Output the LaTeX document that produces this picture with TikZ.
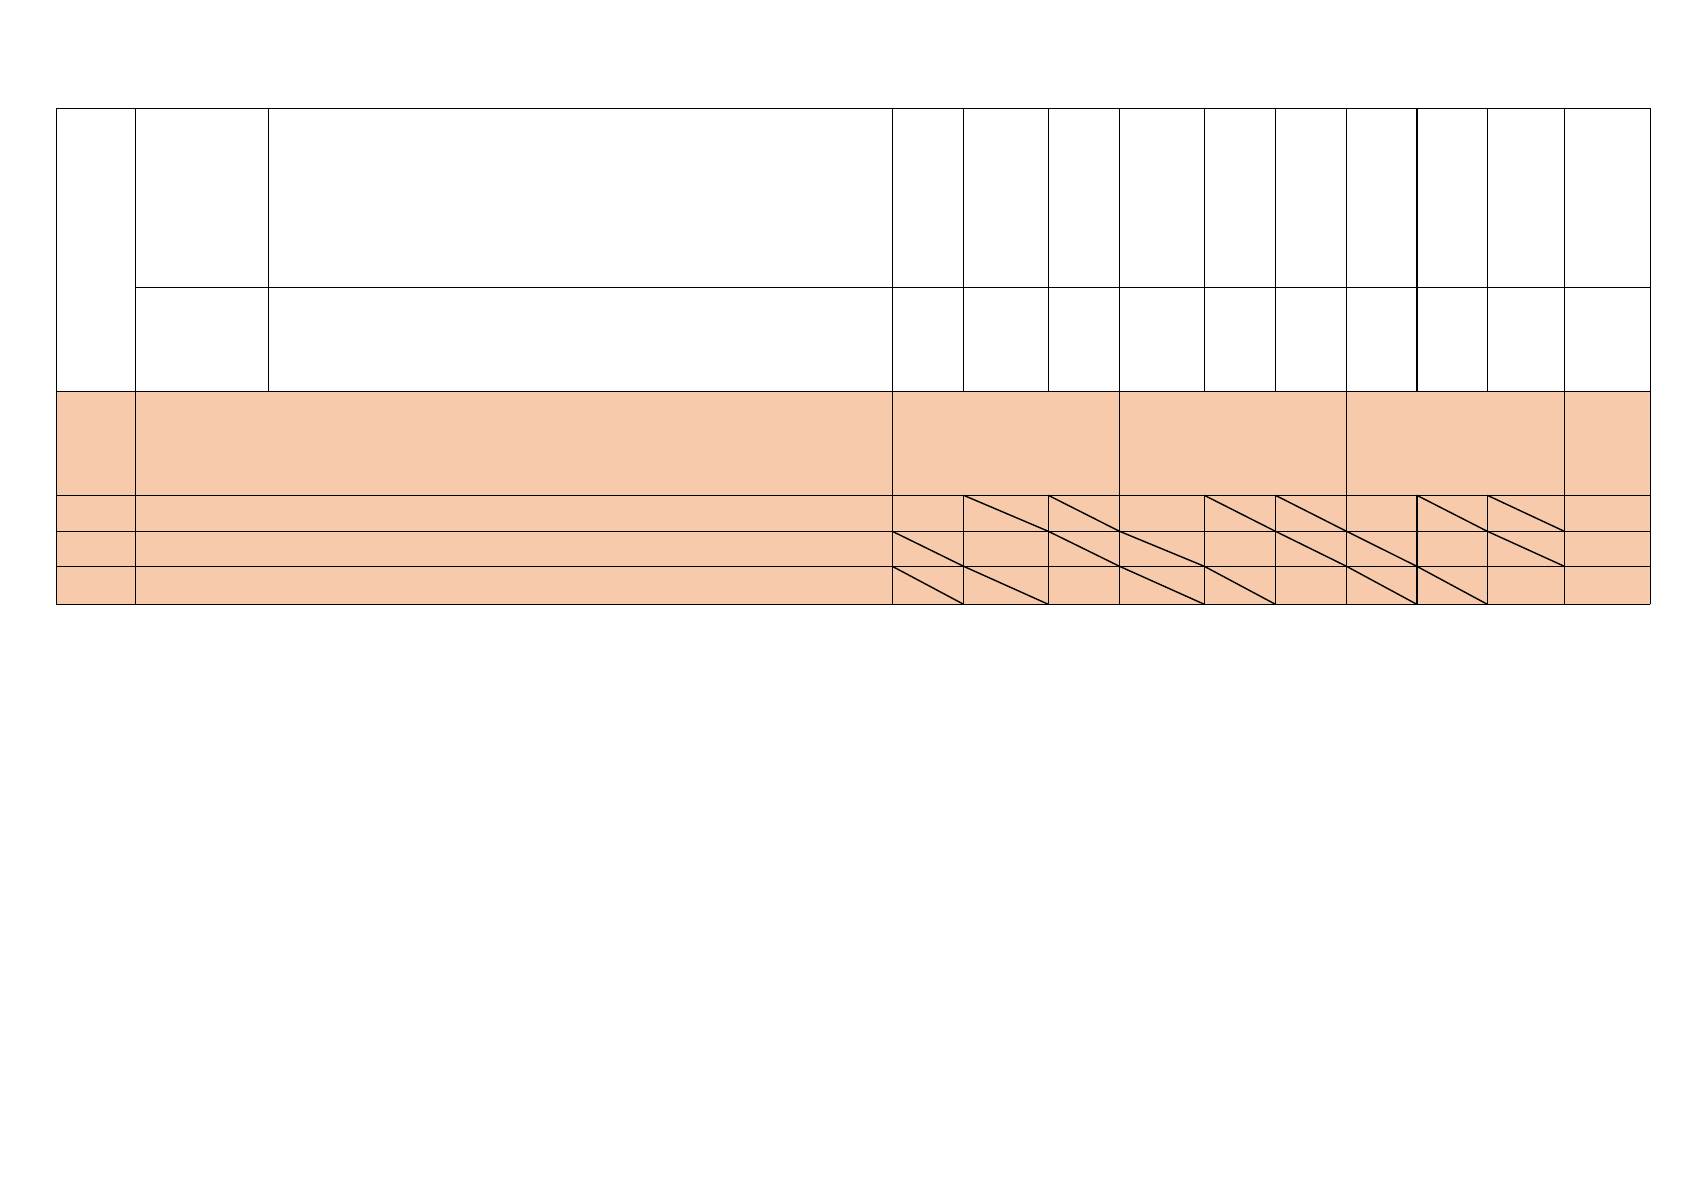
\documentclass[tikz,border=0pt]{standalone}
\definecolor{peach}{HTML}{F7CAAC}
\begin{document}
\begin{tikzpicture}[x=0.02cm, y=-0.02cm, line width=0.8pt]

\useasboundingbox (0,0) rectangle (1685,1192);

\def\yt{108.3}; % table top
\def\yh{287.3}; % header split
\def\yo{391.3}; % band top
\def\ya{495.3}; % row a
\def\yb{531.3}; % row b
\def\yc{566.3}; % row c
\def\ybot{604.3}; % table bottom

\def\xl{56.3}; % left edge
\def\xa{135.3};
\def\xb{268.3};
\def\xn{892.3}; % first number column
\def\xr{1650.3}; % right edge

\filldraw[fill=peach, draw=peach] (\xl, \yo) rectangle (\xr, \ybot);

% horizontal rules
\draw (\xl, \yt) -- (\xr, \yt);
\draw (\xa, \yh) -- (\xr, \yh);
\foreach \y in {\yo, \ya, \yb, \yc, \ybot}
  \draw (\xl, \y) -- (\xr, \y);

% vertical rules
\foreach \x in {\xl, \xa, \xn, 1119.5, 1346.5, 1564.3, \xr}
  \draw (\x, \yt) -- (\x, \ybot);
\draw (\xb, \yt) -- (\xb, \yo);
\foreach \x in {963.6, 1048.3, 1204.3, 1275.4, 1416.8, 1487.3} {
  \draw (\x, \yt) -- (\x, \yo);
  \draw (\x, \ya) -- (\x, \ybot);
}

% crossed-out cells
\foreach \p/\q in {963.6/1048.3, 1048.3/1119.5, 1204.3/1275.4, 1275.4/1346.5, 1416.8/1487.3, 1487.3/1564.3}
  \draw (\p, \ya) -- (\q, \yb);
\foreach \p/\q in {892.3/963.6, 1048.3/1119.5, 1119.5/1204.3, 1275.4/1346.5, 1346.5/1416.8, 1487.3/1564.3}
  \draw (\p, \yb) -- (\q, \yc);
\foreach \p/\q in {892.3/963.6, 963.6/1048.3, 1119.5/1204.3, 1204.3/1275.4, 1346.5/1416.8, 1416.8/1487.3}
  \draw (\p, \yc) -- (\q, \ybot);

\end{tikzpicture}
\end{document}
